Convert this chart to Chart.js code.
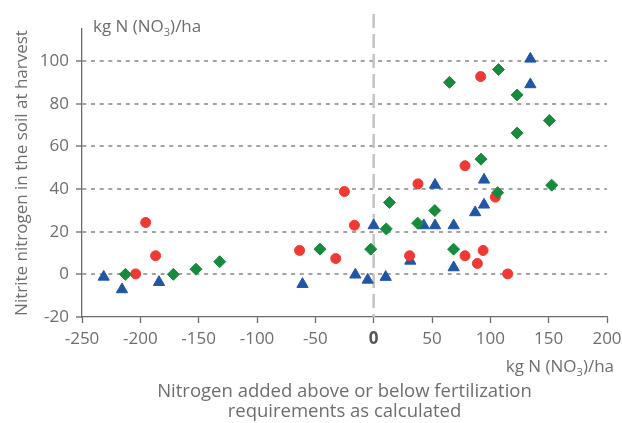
<!DOCTYPE html>
<html>
<head>
<meta charset="utf-8">
<script src="https://cdn.jsdelivr.net/npm/chart.js@4.4.0/dist/chart.umd.min.js"></script>
<style>
    html, body { margin: 0; padding: 0; background: #fff; }
</style>
</head>
<body>
<canvas id="myChart" width="622" height="423"></canvas>
<script>
const xTicks = [-250, -200, -150, -100, -50, 0, 50, 100, 150, 200];
const yTicks = [-20, 0, 20, 40, 60, 80, 100];
const unitLabel = ["kg N (NO", "3", ")/ha"];
const yTitle = "Nitrite nitrogen in the soil at harvest";
const xTitle = ["Nitrogen added above or below fertilization", "requirements as calculated"];

// green diamonds
const greenX = [-212.8, -171.7, -152.3, -132, -46, -2.5, 10.8, 13.5, 37.7, 52.4, 65, 68.5, 92, 106.3, 107, 122.9, 122.9, 150.6, 152.6];
const greenY = [0, 0, 2.4, 5.9, 11.8, 11.8, 21.3, 33.7, 24, 29.9, 90, 11.8, 54, 38.3, 96, 84.1, 66.2, 72.1, 41.8];

// red circles
const redX = [-204, -195.4, -186.9, -63.5, -32.5, -25.1, -16.5, 30.8, 38, 78.3, 78.3, 91.7, 93.8, 88.9, 104.3, 114.9];
const redY = [0.2, 24.3, 8.7, 11.2, 7.4, 38.8, 23, 8.7, 42.4, 50.9, 8.7, 92.7, 11.2, 5.1, 36.2, 0.2];

// blue triangles
const blueX = [-231.4, -215.7, -184, -61, -15.7, -5.1, 0, 10.3, 31.4, 42.9, 52.6, 52.6, 68.6, 68.6, 87, 94.6, 94.6, 134.3, 134.3];
const blueY = [-1.2, -7.1, -3.7, -4.6, -0.2, -2.6, 22.9, -1.3, 6.3, 22.9, 22.9, 41.9, 22.9, 3.2, 29, 32.6, 44.3, 101, 89];

function toPoints(xs, ys) {
    return xs.map((x, i) => ({ x: x, y: ys[i] }));
}

const textColor = "#6e6e6e";
const axisColor = "#6a6a6a";

const zeroLine = {
    id: "zeroLine",
    beforeDatasetsDraw(chart) {
        const ctx = chart.ctx;
        const x = chart.scales.x.getPixelForValue(0);
        const area = chart.chartArea;
        ctx.save();
        ctx.strokeStyle = "#c4c4c4";
        ctx.lineWidth = 2.5;
        ctx.setLineDash([14, 6]);
        ctx.beginPath();
        ctx.moveTo(x, area.top - 15);
        ctx.lineTo(x, area.bottom);
        ctx.stroke();
        ctx.restore();
    }
};

function drawUnit(ctx, x, y, align) {
    ctx.font = "17px 'Open Sans'";
    const w1 = ctx.measureText(unitLabel[0]).width;
    const w3 = ctx.measureText(unitLabel[2]).width;
    ctx.font = "11px 'Open Sans'";
    const w2 = ctx.measureText(unitLabel[1]).width;
    let left = align === "right" ? x - (w1 + w2 + w3) : x;
    ctx.textBaseline = "alphabetic";
    ctx.textAlign = "left";
    ctx.fillStyle = textColor;
    ctx.font = "17px 'Open Sans'";
    ctx.fillText(unitLabel[0], left, y);
    ctx.font = "11px 'Open Sans'";
    ctx.fillText(unitLabel[1], left + w1, y + 4);
    ctx.font = "17px 'Open Sans'";
    ctx.fillText(unitLabel[2], left + w1 + w2, y);
}

const unitLabels = {
    id: "unitLabels",
    afterDraw(chart) {
        const ctx = chart.ctx;
        const area = chart.chartArea;
        ctx.save();
        drawUnit(ctx, area.left + 11, area.top + 3, "left");
        drawUnit(ctx, area.right + 7, area.bottom + 55, "right");
        ctx.restore();
    }
};

new Chart(document.getElementById("myChart").getContext("2d"), {
    type: "scatter",
    data: {
        datasets: [
            {
                label: "green",
                data: toPoints(greenX, greenY),
                pointStyle: "rectRot",
                pointRadius: 6,
                backgroundColor: "#178a3e",
                borderColor: "#178a3e",
                borderWidth: 1
            },
            {
                label: "red",
                data: toPoints(redX, redY),
                pointStyle: "circle",
                pointRadius: 5,
                backgroundColor: "#ee3a33",
                borderColor: "#ee3a33",
                borderWidth: 1
            },
            {
                label: "blue",
                data: toPoints(blueX, blueY),
                pointStyle: "triangle",
                pointRadius: 6.5,
                backgroundColor: "#2156a6",
                borderColor: "#2156a6",
                borderWidth: 1
            }
        ]
    },
    options: {
        responsive: false,
        animation: false,
        events: [],
        layout: { padding: { left: 0, top: 29, right: 15, bottom: 0 } },
        plugins: {
            legend: { display: false },
            tooltip: { enabled: false }
        },
        scales: {
            x: {
                type: "linear",
                min: -250,
                max: 200,
                afterFit: s => {
                    s.height = 106;
                    s.paddingLeft = 0;
                    s.paddingRight = 0;
                },
                afterBuildTicks: s => { s.ticks = xTicks.map(v => ({ value: v })); },
                grid: {
                    drawOnChartArea: false,
                    tickLength: 6,
                    tickColor: axisColor,
                    tickWidth: 1.3
                },
                border: { color: axisColor, width: 1.3 },
                ticks: {
                    padding: 6,
                    color: c => c.tick && c.tick.value === 0 ? "#555" : textColor,
                    font: c => ({
                        family: "'Open Sans'",
                        size: 17,
                        weight: c.tick && c.tick.value === 0 ? "bold" : "normal"
                    })
                },
                title: {
                    display: true,
                    text: xTitle,
                    color: textColor,
                    font: { family: "'Open Sans'", size: 18.5, lineHeight: 1.05 },
                    padding: { top: 0, bottom: 2 }
                }
            },
            y: {
                type: "linear",
                min: -20,
                max: 115,
                afterFit: s => { s.width = 82; },
                afterBuildTicks: s => { s.ticks = yTicks.map(v => ({ value: v })); },
                grid: {
                    color: c => c.tick && c.tick.value === -20 ? "rgba(0,0,0,0)" : "#a3a3a3",
                    lineWidth: 2,
                    tickLength: 6,
                    tickColor: axisColor,
                    tickWidth: 1.3,
                    tickBorderDash: []
                },
                border: { color: axisColor, width: 1.3, dash: [4, 4.7] },
                ticks: {
                    padding: 7,
                    color: textColor,
                    font: { family: "'Open Sans'", size: 17 }
                },
                title: {
                    display: true,
                    text: yTitle,
                    color: textColor,
                    font: { family: "'Open Sans'", size: 17, lineHeight: 1.2 },
                    padding: { top: 12, bottom: 0 }
                }
            }
        }
    },
    plugins: [zeroLine, unitLabels]
});
</script>
</body>
</html>
